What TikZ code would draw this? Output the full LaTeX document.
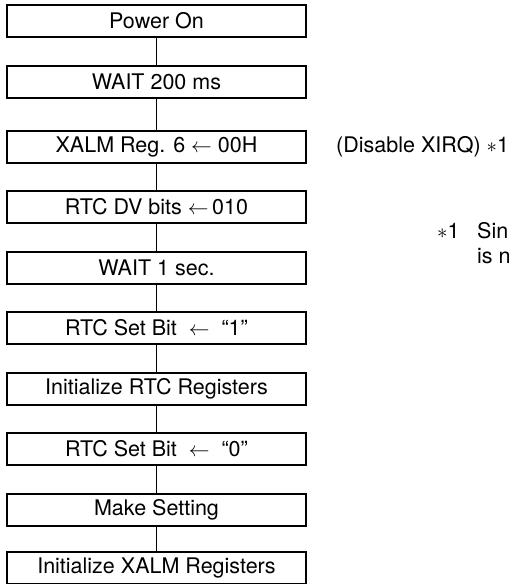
\documentclass[tikz,border=0pt]{standalone}
\usepackage{fontspec}
\setmainfont{TeX Gyre Heros}
\begin{document}
\begin{tikzpicture}[x=1pt,y=-1pt,
  stepbox/.style={draw, line width=1.1pt, minimum width=299pt, minimum height=32pt,
    inner sep=0pt, font=\fontsize{21.5}{24}\selectfont},
  link/.style={line width=1pt},
  note/.style={font=\fontsize{21.5}{24}\selectfont, inner sep=0pt}]
\useasboundingbox (0,0) rectangle (513,584);
\clip (0,0) rectangle (513,584);
\def\lar{\ensuremath{\leftarrow}}
\node[stepbox] (s1)  at (156.5,21)  {Power On};
\node[stepbox] (s2)  at (156.5,82)  {WAIT 200 ms};
\node[stepbox] (s3)  at (156.5,147) {XALM Reg. 6 \lar\ 00H};
\node[stepbox] (s4)  at (156.5,207) {RTC DV bits \lar\,010};
\node[stepbox] (s5)  at (156.5,268) {WAIT 1 sec.};
\node[stepbox] (s6)  at (156.5,328) {RTC Set Bit \ \lar\ \ “1”};
\node[stepbox] (s7)  at (156.5,389) {Initialize RTC Registers};
\node[stepbox] (s8)  at (156.5,449) {RTC Set Bit \ \lar\ \ “0”};
\node[stepbox] (s9)  at (156.5,510) {Make Setting};
\node[stepbox] (s10) at (156.5,568) {Initialize XALM Registers};
\foreach \a/\b in {s1/s2,s2/s3,s3/s4,s4/s5,s5/s6,s6/s7,s7/s8,s8/s9,s9/s10}
  \draw[link] (\a.south) -- (\b.north);
\node[note, anchor=west] (xirq) at (336,147) {(Disable XIRQ) $*$1};
\node[note, anchor=west] (fnmark) at (437,231) {$*$1};
\node[note, anchor=west] (fn1) at (477,231) {Sin};
\node[note, anchor=west] (fn2) at (477,256) {is n};
\end{tikzpicture}
\end{document}
